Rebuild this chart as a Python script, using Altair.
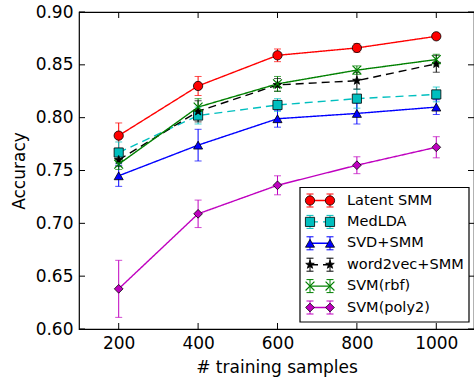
import math
import altair as alt
import pandas as pd

# Number of training samples on the x axis
samples = [200, 400, 600, 800, 1000]

series_names = ["Latent SMM", "MedLDA", "SVD+SMM", "word2vec+SMM", "SVM(rbf)", "SVM(poly2)"]

# Mean accuracy per method
acc_latent_smm = [0.783, 0.830, 0.859, 0.866, 0.877]
acc_medlda = [0.767, 0.802, 0.812, 0.818, 0.822]
acc_svd_smm = [0.745, 0.774, 0.799, 0.804, 0.810]
acc_word2vec_smm = [0.760, 0.806, 0.831, 0.835, 0.851]
acc_svm_rbf = [0.756, 0.810, 0.832, 0.845, 0.855]
acc_svm_poly2 = [0.638, 0.709, 0.736, 0.755, 0.772]

# Standard deviation per method
err_latent_smm = [0.012, 0.009, 0.006, 0.004, 0.002]
err_medlda = [0.010, 0.008, 0.006, 0.009, 0.007]
err_svd_smm = [0.010, 0.015, 0.008, 0.010, 0.007]
err_word2vec_smm = [0.006, 0.010, 0.006, 0.008, 0.008]
err_svm_rbf = [0.005, 0.008, 0.007, 0.004, 0.005]
err_svm_poly2 = [0.027, 0.013, 0.009, 0.008, 0.010]

x_ticks = [200, 400, 600, 800, 1000]
y_ticks = [0.60, 0.65, 0.70, 0.75, 0.80, 0.85, 0.90]

colors = ["#ff0000", "#00bfbf", "#0000ff", "#000000", "#008000", "#bf00bf"]
dashes = [[1, 0], [8, 5], [1, 0], [8, 5], [1, 0], [1, 0]]

# five-pointed star and "x" glyphs in the unit box
star_pts = []
for k in range(10):
    a = math.radians(-90 + 36 * k)
    r = 1.0 if k % 2 == 0 else 0.42
    star_pts.append(f"{r * math.cos(a):.4f},{r * math.sin(a):.4f}")
star_path = "M" + "L".join(star_pts) + "Z"
x_path = "M-1,-1L1,1M-1,1L1,-1"

shapes = ["circle", "square", "triangle-up", star_path, x_path, "diamond"]
sizes = [86, 76, 92, 85, 64, 121]

all_acc = [acc_latent_smm, acc_medlda, acc_svd_smm, acc_word2vec_smm, acc_svm_rbf, acc_svm_poly2]
all_err = [err_latent_smm, err_medlda, err_svd_smm, err_word2vec_smm, err_svm_rbf, err_svm_poly2]

rows = []
for name, accs, errs in zip(series_names, all_acc, all_err):
    for n, a, e in zip(samples, accs, errs):
        rows.append({"series": name, "n": n, "acc": a, "lo": a - e, "hi": a + e})
df = pd.DataFrame(rows)

FONT = "DejaVu Sans"
W, H = 395, 317

color_scale = alt.Scale(domain=series_names, range=colors)
dash_scale = alt.Scale(domain=series_names, range=dashes)
shape_scale = alt.Scale(domain=series_names, range=shapes)
size_scale = alt.Scale(domain=series_names, range=sizes)
x_scale = alt.Scale(domain=[100, 1095], nice=False, zero=False)
y_scale = alt.Scale(domain=[0.60, 0.90], nice=False, zero=False)

x_enc = alt.X(
    "n:Q", scale=x_scale, title="# training samples",
    axis=alt.Axis(values=x_ticks, format="d", grid=False, ticks=False, tickSize=0, domain=False,
                  labelFontSize=17, labelPadding=6, titleFontSize=17,
                  titlePadding=8, labelFont=FONT, titleFont=FONT,
                  titleFontWeight="normal", labelColor="black", titleColor="black"),
)
y_enc = alt.Y(
    "acc:Q", scale=y_scale, title="Accuracy",
    axis=alt.Axis(values=y_ticks, format=".2f", grid=False, ticks=False, tickSize=0,
                  domain=False, labelFontSize=17, labelPadding=6, titleFontSize=17,
                  titlePadding=7, labelFont=FONT, titleFont=FONT,
                  titleFontWeight="normal", labelColor="black", titleColor="black"),
)

base = alt.Chart(df)

lines = base.mark_line(strokeWidth=1.4).encode(
    x=x_enc, y=y_enc,
    color=alt.Color("series:N", scale=color_scale, legend=None),
    strokeDash=alt.StrokeDash("series:N", scale=dash_scale, legend=None),
    detail="series:N",
)

bars = base.mark_rule(strokeWidth=1).encode(
    x=alt.X("n:Q", scale=x_scale),
    y=alt.Y("lo:Q", scale=y_scale),
    y2="hi:Q",
    color=alt.Color("series:N", scale=color_scale, legend=None),
)

caps_hi = base.mark_tick(orient="horizontal", size=7, thickness=1).encode(
    x=alt.X("n:Q", scale=x_scale),
    y=alt.Y("hi:Q", scale=y_scale),
    color=alt.Color("series:N", scale=color_scale, legend=None),
)
caps_lo = base.mark_tick(orient="horizontal", size=7, thickness=1).encode(
    x=alt.X("n:Q", scale=x_scale),
    y=alt.Y("lo:Q", scale=y_scale),
    color=alt.Color("series:N", scale=color_scale, legend=None),
)

filled_pts = base.transform_filter(alt.datum.series != "SVM(rbf)").mark_point(
    filled=True, stroke="black", strokeWidth=0.8, opacity=1
).encode(
    x=alt.X("n:Q", scale=x_scale),
    y=alt.Y("acc:Q", scale=y_scale),
    fill=alt.Fill("series:N", scale=color_scale, legend=None),
    shape=alt.Shape("series:N", scale=shape_scale, legend=None),
    size=alt.Size("series:N", scale=size_scale, legend=None),
)

x_pts = base.transform_filter(alt.datum.series == "SVM(rbf)").mark_point(
    filled=False, strokeWidth=1.2, opacity=1
).encode(
    x=alt.X("n:Q", scale=x_scale),
    y=alt.Y("acc:Q", scale=y_scale),
    color=alt.Color("series:N", scale=color_scale, legend=None),
    shape=alt.Shape("series:N", scale=shape_scale, legend=None),
    size=alt.Size("series:N", scale=size_scale, legend=None),
)

# inward tick marks on all four sides
xt = alt.Chart(pd.DataFrame({"n": x_ticks}))
yt = alt.Chart(pd.DataFrame({"acc": y_ticks}))
TK = 6
ticks = [
    xt.mark_rule(color="black").encode(x=alt.X("n:Q", scale=x_scale), y=alt.value(H), y2=alt.value(H - TK)),
    xt.mark_rule(color="black").encode(x=alt.X("n:Q", scale=x_scale), y=alt.value(0), y2=alt.value(TK)),
    yt.mark_rule(color="black").encode(y=alt.Y("acc:Q", scale=y_scale), x=alt.value(0), x2=alt.value(TK)),
    yt.mark_rule(color="black").encode(y=alt.Y("acc:Q", scale=y_scale), x=alt.value(W), x2=alt.value(W - TK)),
]

# legend panel
leg = alt.Chart(pd.DataFrame({"series": series_names, "i": list(range(len(series_names)))})).transform_calculate(
    ly="188.5 + datum.i * 21.4", ly0="188.5 + datum.i * 21.4 - 6.5", ly1="188.5 + datum.i * 21.4 + 6.5"
)
LX0, LX1 = 231, 251
leg_box = alt.Chart(pd.DataFrame({"k": [0]})).mark_rect(
    fill="white", stroke="black", strokeWidth=1.2
).encode(x=alt.value(221), x2=alt.value(390), y=alt.value(175.5), y2=alt.value(310))

leg_layers = [leg_box]
leg_layers.append(leg.mark_rule(strokeWidth=1.4).encode(
    x=alt.value(LX0), x2=alt.value(LX1), y=alt.Y("ly:Q", scale=None),
    color=alt.Color("series:N", scale=color_scale, legend=None),
    strokeDash=alt.StrokeDash("series:N", scale=dash_scale, legend=None),
))
for lx in (LX0, LX1):
    leg_layers.append(leg.mark_rule(strokeWidth=1).encode(
        x=alt.value(lx), y=alt.Y("ly0:Q", scale=None), y2="ly1:Q",
        color=alt.Color("series:N", scale=color_scale, legend=None),
    ))
    for fld in ("ly0", "ly1"):
        leg_layers.append(leg.mark_rule(strokeWidth=1).encode(
            x=alt.value(lx - 3.5), x2=alt.value(lx + 3.5), y=alt.Y(f"{fld}:Q", scale=None),
            color=alt.Color("series:N", scale=color_scale, legend=None),
        ))
    leg_layers.append(leg.transform_filter(alt.datum.series != "SVM(rbf)").mark_point(
        filled=True, stroke="black", strokeWidth=0.8, opacity=1
    ).encode(
        x=alt.value(lx), y=alt.Y("ly:Q", scale=None),
        fill=alt.Fill("series:N", scale=color_scale, legend=None),
        shape=alt.Shape("series:N", scale=shape_scale, legend=None),
        size=alt.Size("series:N", scale=size_scale, legend=None),
    ))
    leg_layers.append(leg.transform_filter(alt.datum.series == "SVM(rbf)").mark_point(
        filled=False, strokeWidth=1.2, opacity=1
    ).encode(
        x=alt.value(lx), y=alt.Y("ly:Q", scale=None),
        color=alt.Color("series:N", scale=color_scale, legend=None),
        shape=alt.Shape("series:N", scale=shape_scale, legend=None),
        size=alt.Size("series:N", scale=size_scale, legend=None),
    ))
leg_layers.append(leg.mark_text(align="left", baseline="middle", fontSize=14.5, font=FONT, color="black").encode(
    x=alt.value(268), y=alt.Y("ly:Q", scale=None), text="series:N",
))

chart = alt.layer(
    lines, bars, caps_hi, caps_lo, filled_pts, x_pts, *ticks, *leg_layers
).properties(
    width=W, height=H,
    autosize=alt.AutoSizeParams(type="none"),
    padding={"left": 79, "top": 12, "right": 0, "bottom": 52},
    background="white",
).configure_view(
    stroke="black", strokeWidth=1.2
)

chart.save("out.html", embed_options={"renderer": "svg", "actions": False})
